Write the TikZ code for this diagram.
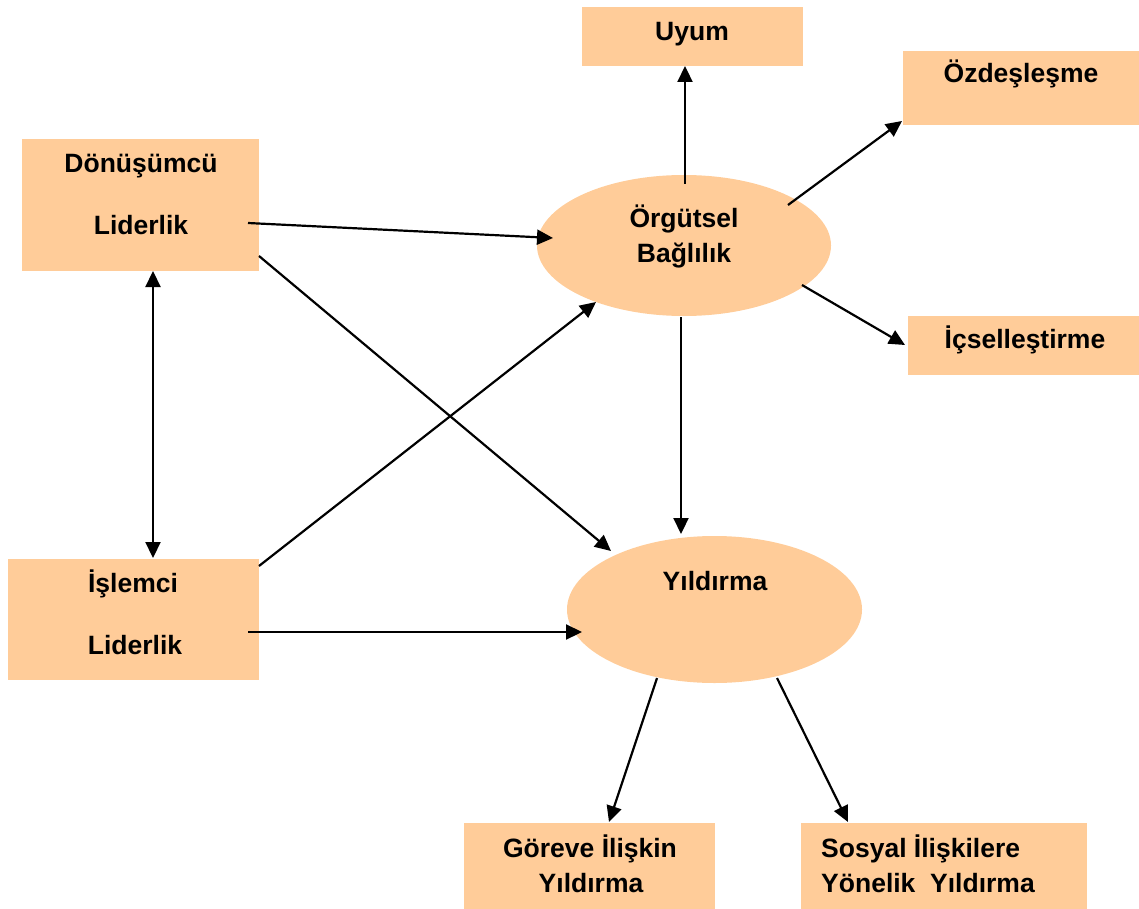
\documentclass[tikz,border=0pt]{standalone}
\usepackage{fontspec}
\setmainfont{Liberation Sans}
\usetikzlibrary{arrows.meta,shapes.geometric}
\definecolor{peach}{RGB}{255,204,153}
\begin{document}
\begin{tikzpicture}[x=1pt,y=-1pt,
 box/.style={rectangle,fill=peach,draw=none,inner sep=0pt},
 oval/.style={ellipse,fill=peach,draw=none,inner sep=0pt},
 lbl/.style={anchor=base,inner sep=0pt,font=\bfseries\fontsize{26.5}{30}\selectfont},
 lblw/.style={lbl,anchor=base west},
 arr/.style={line width=2.2pt,-{Triangle[length=16pt,width=15pt]}},
 darr/.style={line width=2.2pt,{Triangle[length=16pt,width=15pt]}-{Triangle[length=16pt,width=15pt]}}]
\useasboundingbox (0,0) rectangle (1139,909);
% shapes
\node[box,minimum width=221pt,minimum height=59pt] (uyum) at (692.5,36.5) {};
\node[box,minimum width=236pt,minimum height=74pt] (ozd) at (1021,88) {};
\node[box,minimum width=237pt,minimum height=132pt] (don) at (140.5,205) {};
\node[oval,minimum width=294pt,minimum height=141pt] (org) at (684,245.5) {};
\node[box,minimum width=231pt,minimum height=59pt] (ic) at (1023.5,345.5) {};
\node[box,minimum width=251pt,minimum height=121pt] (isl) at (133.5,619.5) {};
\node[oval,minimum width=295pt,minimum height=147pt] (yil) at (714.5,609.5) {};
\node[box,minimum width=251pt,minimum height=86pt] (gor) at (589.5,866) {};
\node[box,minimum width=286pt,minimum height=86pt] (sos) at (944,866) {};
% texts
\node[lbl] (uyumT) at (692,41) {Uyum};
\node[lbl] (ozdT) at (1021,83) {Özdeşleşme};
\node[lbl] (donT1) at (141,173) {Dönüşümcü};
\node[lbl] (donT2) at (141,234) {Liderlik};
\node[lbl] (orgT1) at (684,227) {Örgütsel};
\node[lbl] (orgT2) at (684,262) {Bağlılık};
\node[lbl] (icT) at (1025,348) {İçselleştirme};
\node[lbl] (islT1) at (133,592) {İşlemci};
\node[lbl] (islT2) at (135,654) {Liderlik};
\node[lbl] (yilT) at (715,590) {Yıldırma};
\node[lbl] (gorT1) at (590,857) {Göreve İlişkin};
\node[lbl] (gorT2) at (591,892) {Yıldırma};
\node[lblw] (sosT1) at (821,857) {Sosyal İlişkilere};
\node[lblw] (sosT2) at (821,892) {Yönelik\ \ Yıldırma};
% connectors
\draw[arr] ([shift={(1,-61.5)}]org.center) -- ([shift={(-7.5,29.5)}]uyum.center);
\draw[arr] ([shift={(104,-40.5)}]org.center) -- ([shift={(-119,33)}]ozd.center);
\draw[arr] ([shift={(118,39.5)}]org.center) -- ([shift={(-118.5,-0.5)}]ic.center);
\draw[arr] ([shift={(107.5,18)}]don.center) -- ([shift={(-131,-7.5)}]org.center);
\draw[arr] ([shift={(125.5,-53.5)}]isl.center) -- ([shift={(-88,56.5)}]org.center);
\draw[arr] ([shift={(-3,71.5)}]org.center) -- ([shift={(-33.5,-75.5)}]yil.center);
\draw[arr] ([shift={(118.5,51)}]don.center) -- ([shift={(-103.5,-58.5)}]yil.center);
\draw[arr] ([shift={(114.5,12.5)}]isl.center) -- ([shift={(-132.5,22.5)}]yil.center);
\draw[darr] ([shift={(12.5,66)}]don.center) -- ([shift={(19.5,-61.5)}]isl.center);
\draw[arr] ([shift={(-57.5,68.5)}]yil.center) -- ([shift={(19.5,-44)}]gor.center);
\draw[arr] ([shift={(62.5,68.5)}]yil.center) -- ([shift={(-96,-44)}]sos.center);
\end{tikzpicture}
\end{document}
